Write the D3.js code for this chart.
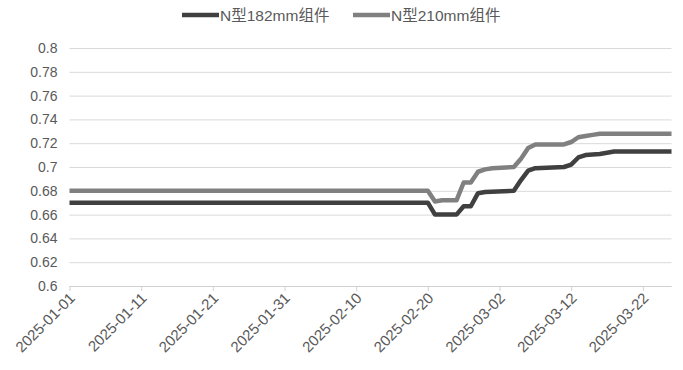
<!DOCTYPE html>
<html><head><meta charset="utf-8">
<script src="https://cdn.jsdelivr.net/npm/d3@7"></script>
<style>body{margin:0;background:#fff}svg{display:block}</style>
</head><body>
<svg id="c" width="683" height="370"></svg>
<script>
const seriesNames = ["N型182mm组件", "N型210mm组件"];
const dates182 = ["2025-01-01","2025-02-20","2025-02-21","2025-02-24","2025-02-25","2025-02-26","2025-02-27","2025-02-28","2025-03-04","2025-03-05","2025-03-06","2025-03-07","2025-03-11","2025-03-12","2025-03-13","2025-03-14","2025-03-16","2025-03-17","2025-03-18","2025-03-26"];
const values182 = [0.67,0.67,0.66,0.66,0.667,0.667,0.678,0.679,0.680,0.689,0.697,0.699,0.700,0.702,0.708,0.710,0.711,0.712,0.713,0.713];
const dates210 = ["2025-01-01","2025-02-20","2025-02-21","2025-02-22","2025-02-24","2025-02-25","2025-02-26","2025-02-27","2025-02-28","2025-03-01","2025-03-04","2025-03-05","2025-03-06","2025-03-07","2025-03-11","2025-03-12","2025-03-13","2025-03-14","2025-03-15","2025-03-16","2025-03-26"];
const values210 = [0.68,0.68,0.671,0.672,0.672,0.687,0.687,0.696,0.698,0.699,0.700,0.707,0.716,0.719,0.719,0.721,0.725,0.726,0.727,0.728,0.728];
const yTicks = [0.6,0.62,0.64,0.66,0.68,0.7,0.72,0.74,0.76,0.78,0.8];
const xTickLabels = ["2025-01-01","2025-01-11","2025-01-21","2025-01-31","2025-02-10","2025-02-20","2025-03-02","2025-03-12","2025-03-22"];
const xDomain = ["2025-01-01","2025-03-26"];

const parse = d3.utcParse("%Y-%m-%d");
const svg = d3.select("#c");
const font = "'Liberation Sans', 'Noto Sans CJK SC', sans-serif";
const textColor = "#595959";
const x = d3.scaleUtc().domain(xDomain.map(parse)).range([69.5, 671.5]);
const y = d3.scaleLinear().domain([0.6, 0.8]).range([286, 48]);

// gridlines + y labels
const yAxis = d3.axisLeft(y).tickValues(yTicks).tickSize(-(671.5-69.5)).tickPadding(12)
  .tickFormat(d => d3.format("")(+d.toFixed(2)));
const gy = svg.append("g").attr("transform", "translate(69.5,0)").call(yAxis);
gy.select(".domain").remove();
gy.selectAll(".tick line").attr("stroke", "#d9d9d9").attr("stroke-width", 1);
gy.selectAll(".tick text").attr("fill", textColor).style("font-family", font).style("font-size", "14px");

// x axis
const xAxis = d3.axisBottom(x).tickValues(xTickLabels.map(parse)).tickSize(5).tickFormat(d3.utcFormat("%Y-%m-%d"));
const gx = svg.append("g").attr("transform", "translate(0,286)").call(xAxis);
gx.select(".domain").attr("stroke", "#d0d0d0").attr("d", `M69.5,0.5H671.5`);
gx.selectAll(".tick line").attr("stroke", "#d0d0d0");
gx.selectAll(".tick text").attr("fill", textColor).style("font-family", font).style("font-size", "15px")
  .attr("text-anchor", "end").attr("dy", null).attr("y", 0)
  .attr("transform", "translate(6,13) rotate(-45)");

const line = d3.line().x(d => x(d[0])).y(d => y(d[1]));
const data182 = dates182.map((d, i) => [parse(d), values182[i]]);
const data210 = dates210.map((d, i) => [parse(d), values210[i]]);
const colors = ["#404040", "#808080"];
svg.append("path").datum(data210).attr("d", line).attr("fill", "none").attr("stroke", colors[1]).attr("stroke-width", 4.5).attr("stroke-linejoin", "round");
svg.append("path").datum(data182).attr("d", line).attr("fill", "none").attr("stroke", colors[0]).attr("stroke-width", 4.5).attr("stroke-linejoin", "round");

// legend
const legend = svg.append("g");
const items = [{x: 182, c: colors[0], t: seriesNames[0]}, {x: 353, c: colors[1], t: seriesNames[1]}];
items.forEach(it => {
  legend.append("line").attr("x1", it.x).attr("x2", it.x + 37).attr("y1", 15).attr("y2", 15)
    .attr("stroke", it.c).attr("stroke-width", 4.5);
  legend.append("text").attr("x", it.x + 38).attr("y", 20.5).text(it.t)
    .attr("fill", textColor).style("font-family", font).style("font-size", "15.5px");
});
</script>
</body></html>
